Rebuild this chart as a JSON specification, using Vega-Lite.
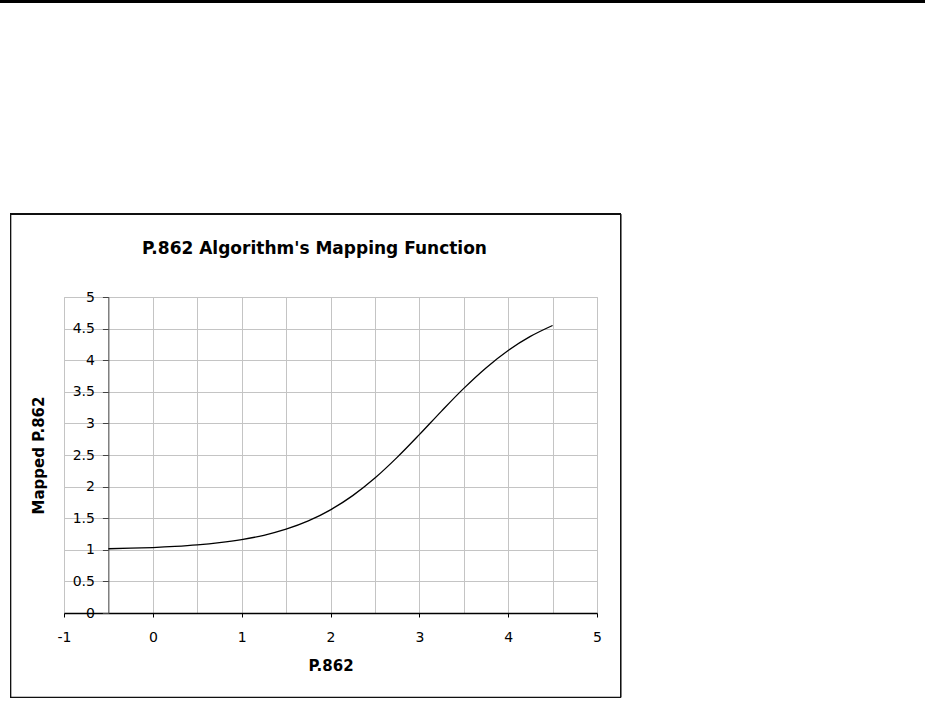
{
  "$schema": "https://vega.github.io/schema/vega-lite/v6.json",
  "autosize": "none",
  "width": 533,
  "height": 316,
  "padding": {"left": 64, "top": 297, "right": 328, "bottom": 88},
  "background": "white",
  "config": {
    "view": {"stroke": "#c4c4c4", "strokeWidth": 1},
    "font": "DejaVu Sans"
  },
  "title": {
    "text": "P.862 Algorithm's Mapping Function",
    "font": "DejaVu Sans",
    "fontSize": 17,
    "fontWeight": "bold",
    "color": "#000",
    "frame": "group",
    "anchor": "middle",
    "baseline": "alphabetic",
    "offset": -271,
    "dx": -16
  },
  "data": {
    "values": [
      {"x": -0.5, "y": 1.017},
      {"x": -0.25, "y": 1.025},
      {"x": 0, "y": 1.036},
      {"x": 0.25, "y": 1.053},
      {"x": 0.5, "y": 1.077},
      {"x": 0.75, "y": 1.112},
      {"x": 1, "y": 1.161},
      {"x": 1.25, "y": 1.23},
      {"x": 1.5, "y": 1.326},
      {"x": 1.75, "y": 1.457},
      {"x": 2, "y": 1.632},
      {"x": 2.25, "y": 1.857},
      {"x": 2.5, "y": 2.135},
      {"x": 2.75, "y": 2.462},
      {"x": 3, "y": 2.822},
      {"x": 3.25, "y": 3.195},
      {"x": 3.5, "y": 3.554},
      {"x": 3.75, "y": 3.878},
      {"x": 4, "y": 4.154},
      {"x": 4.25, "y": 4.376},
      {"x": 4.5, "y": 4.549}
    ]
  },
  "encoding": {
    "x": {
      "type": "quantitative",
      "scale": {"domain": [-1, 5], "nice": false, "zero": false},
      "axis": {
        "title": "P.862",
        "titleFont": "DejaVu Sans",
        "titleFontSize": 15,
        "titleFontWeight": "bold",
        "titleColor": "#000",
        "titlePadding": 14,
        "values": [-1, -0.5, 0, 0.5, 1, 1.5, 2, 2.5, 3, 3.5, 4, 4.5, 5],
        "labelExpr": "datum.value % 1 === 0 ? '' + datum.value : ''",
        "labelFont": "DejaVu Sans",
        "labelFontSize": 14,
        "labelColor": "#000",
        "labelPadding": 13,
        "labelFlush": false,
        "labelOverlap": false,
        "tickSize": 4,
        "tickColor": "#000",
        "tickWidth": 1,
        "tickOpacity": {"condition": {"test": "datum.value % 1 !== 0", "value": 0}, "value": 1},
        "domainColor": "#000",
        "domainWidth": 1.5,
        "grid": true,
        "gridColor": "#c4c4c4",
        "gridWidth": 1
      }
    },
    "y": {
      "type": "quantitative",
      "scale": {"domain": [0, 5], "nice": false, "zero": false},
      "axis": {
        "title": "Mapped P.862",
        "titleFont": "DejaVu Sans",
        "titleFontSize": 15,
        "titleFontWeight": "bold",
        "titleColor": "#000",
        "titlePadding": 26,
        "offset": -44.4,
        "values": [0, 0.5, 1, 1.5, 2, 2.5, 3, 3.5, 4, 4.5, 5],
        "labelExpr": "'' + datum.value",
        "labelFont": "DejaVu Sans",
        "labelFontSize": 14,
        "labelColor": "#000",
        "labelPadding": 8,
        "labelFlush": false,
        "labelOverlap": false,
        "tickSize": 6,
        "tickColor": "#444",
        "domainColor": "#555",
        "domainWidth": 1,
        "grid": true,
        "gridColor": "#c4c4c4",
        "gridWidth": 1
      }
    }
  },
  "layer": [
    {
      "mark": {"type": "line", "color": "#000", "strokeWidth": 1.3, "interpolate": "monotone"},
      "encoding": {
        "x": {"field": "x", "type": "quantitative"},
        "y": {"field": "y", "type": "quantitative"}
      }
    },
    {
      "mark": {"type": "rect", "fill": null, "fillOpacity": 0, "stroke": "#111", "strokeWidth": 1},
      "encoding": {
        "x": {"datum": -1.602, "type": "quantitative"},
        "x2": {"datum": 5.265},
        "y": {"datum": 6.313, "type": "quantitative"},
        "y2": {"datum": -1.337}
      }
    },
    {
      "mark": {"type": "rule", "stroke": "#000", "strokeWidth": 2},
      "encoding": {
        "x": {"datum": -1.73, "type": "quantitative"},
        "x2": {"datum": 8.7},
        "y": {"datum": 9.68, "type": "quantitative"}
      }
    }
  ]
}
